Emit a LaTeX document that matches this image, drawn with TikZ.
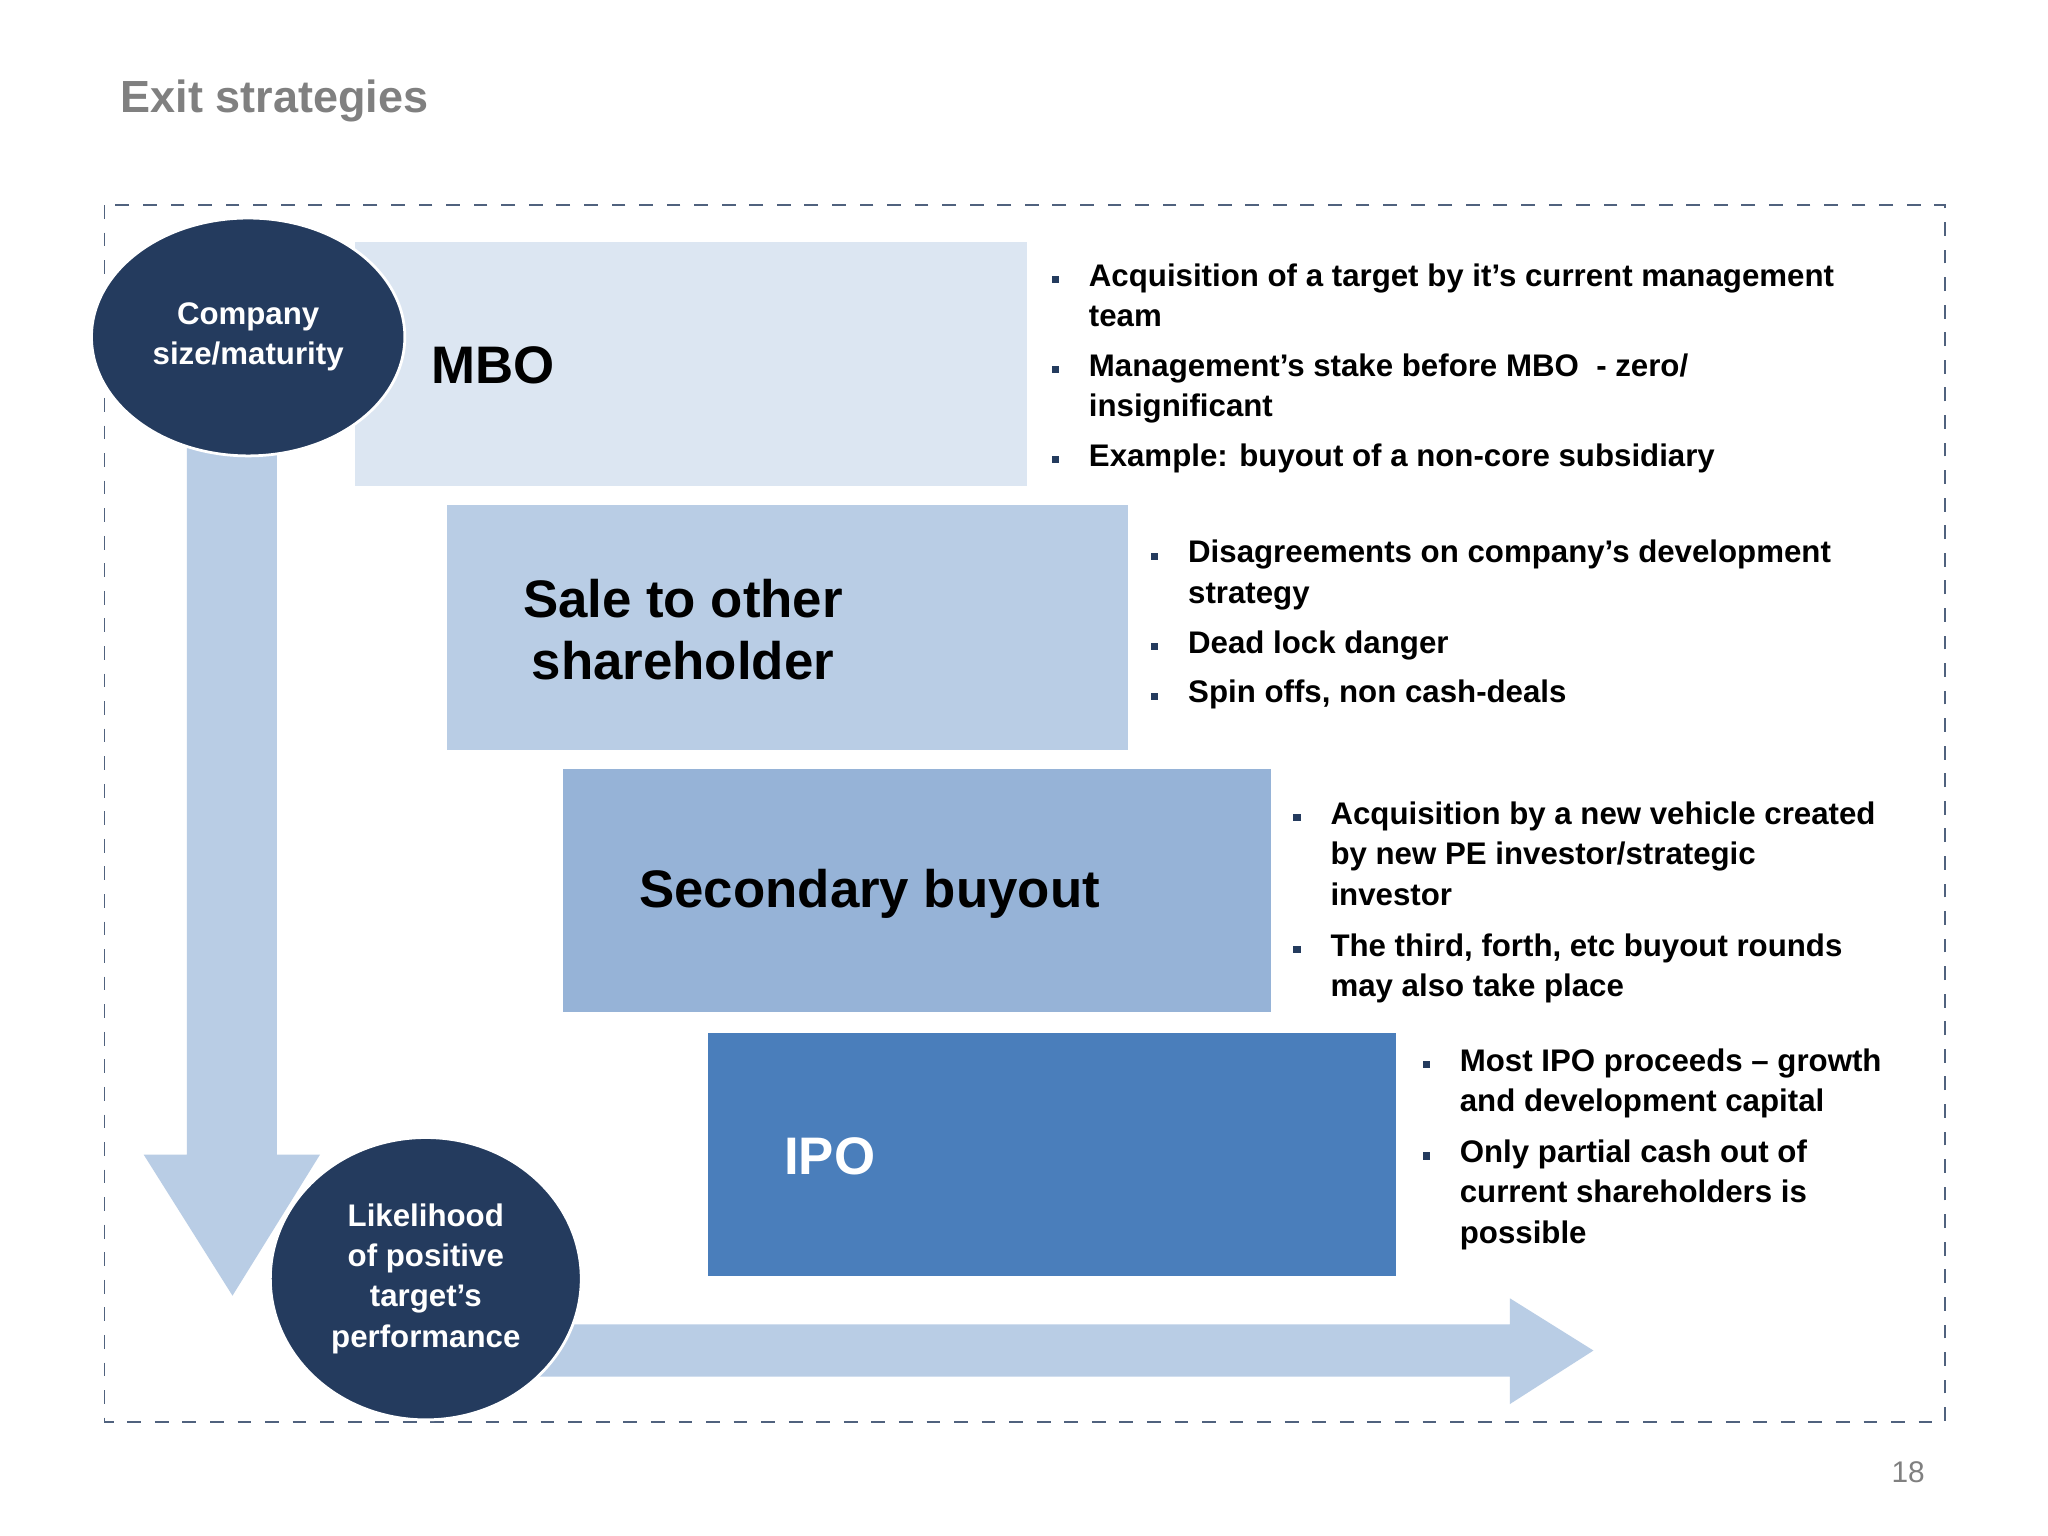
\documentclass[tikz,border=0pt]{standalone}
\usepackage{fontspec}
\setmainfont{Liberation Sans}
\usetikzlibrary{shapes.geometric}
\definecolor{navy}{HTML}{243B5E}
\definecolor{arr}{HTML}{B9CDE5}
\definecolor{cA}{HTML}{DCE6F2}
\definecolor{cB}{HTML}{B9CDE5}
\definecolor{cC}{HTML}{96B3D7}
\definecolor{cD}{HTML}{4A7EBB}
\begin{document}
\begin{tikzpicture}[x=0.01cm,y=-0.01cm,
  box/.style={draw=none,inner sep=0pt},
  bul/.style={anchor=north west,align=left,inner sep=0pt,font=\fontsize{6.8}{8.8}\selectfont\bfseries},
  sq/.style={fill=navy,minimum size=0.055cm,inner sep=0pt},
  circ/.style={ellipse,fill=navy,draw=white,line width=0.6pt,text=white,align=center,font=\fontsize{6.8}{8.8}\selectfont\bfseries},
  lab/.style={anchor=west,align=center,font=\fontsize{11.5}{13.5}\selectfont\bfseries}]
\useasboundingbox (0,0) rectangle (1568,1176);
\fill[white] (0,0) rectangle (1568,1176);
\node[anchor=west,text=gray,font=\fontsize{9.8}{12}\selectfont\bfseries] (title) at (80,77) {Exit strategies};
\draw[dashed,draw=navy!80,line width=0.4pt] (80,157) rectangle (1489,1089);
% arrows
\fill[arr] (143,330) -- (212,330) -- (212,884) -- (245,884) -- (178,992) -- (110,884) -- (143,884) -- cycle;
\fill[arr] (400,1014) -- (1156,1014) -- (1156,994) -- (1220,1034) -- (1156,1075) -- (1156,1054) -- (400,1054) -- cycle;
% boxes
\fill[cA] (272,185) rectangle (786,372);
\fill[cB] (342,387) rectangle (864,574);
\fill[cC] (431,589) rectangle (973,775);
\fill[cD] (542,791) rectangle (1069,977);
\node[lab] (mbo) at (318,280) {MBO};
\node[lab] (sale) at (388,482) {Sale to other\\shareholder};
\node[lab] (sec) at (477,684) {Secondary buyout};
\node[lab,text=white] (ipo) at (588,885) {IPO};
% circles
\node[circ,minimum width=2.08cm,minimum height=1.82cm] (c1) at (190,258) {Company\\size/maturity};
\node[circ,minimum width=2.22cm,minimum height=2.16cm] (c2) at (326,979) {Likelihood\\of positive\\target’s\\performance};
% bullets
\foreach \x/\y in {808/214,808/283,808/352,884/426,884/495,884/533,993/626,993/727,1092/815,1092/885}
  \node[sq] at (\x,\y) {};
\node[bul] (b1) at (833,201) {Acquisition of a target by it’s current management\\team};
\node[bul] (b2) at (833,270) {Management’s stake before MBO\ \ - zero/\\insignificant};
\node[bul] (b3) at (833,339) {Example: buyout of a non-core subsidiary};
\node[bul] (b4) at (909,413) {Disagreements on company’s development\\strategy};
\node[bul] (b5) at (909,482) {Dead lock danger};
\node[bul] (b6) at (909,520) {Spin offs, non cash-deals};
\node[bul] (b7) at (1018,613) {Acquisition by a new vehicle created\\by new PE investor/strategic\\investor};
\node[bul] (b8) at (1018,714) {The third, forth, etc buyout rounds\\may also take place};
\node[bul] (b9) at (1117,802) {Most IPO proceeds – growth\\and development capital};
\node[bul] (b10) at (1117,872) {Only partial cash out of\\current shareholders is\\possible};
\node[text=gray,font=\fontsize{6.5}{8}\selectfont] (pg) at (1461,1127) {18};
\end{tikzpicture}
\end{document}
